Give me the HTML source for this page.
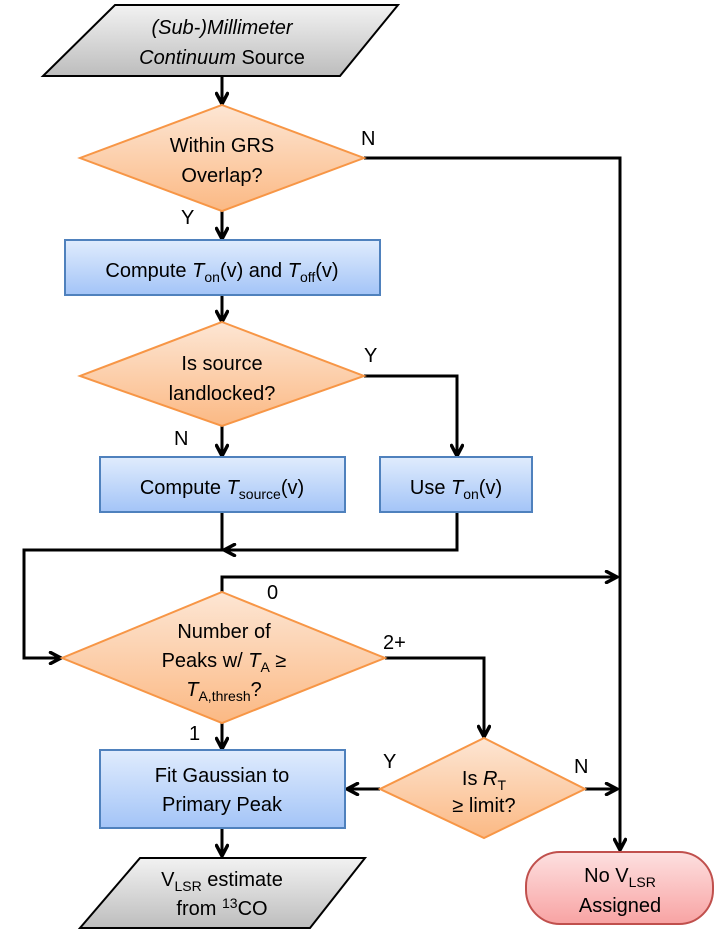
<!DOCTYPE html>
<html><head><meta charset="utf-8"><style>
html,body{margin:0;padding:0;background:#fff}
svg{display:block}
text{font-family:"Liberation Sans",sans-serif;font-size:20px;fill:#000}
</style></head><body>
<svg width="720" height="930" viewBox="0 0 720 930" xmlns="http://www.w3.org/2000/svg">
<defs>
<linearGradient id="o" x1="0" y1="0" x2="0" y2="1"><stop offset="0" stop-color="#fde6d4"/><stop offset="1" stop-color="#fbb984"/></linearGradient>
<linearGradient id="b" x1="0" y1="0" x2="0" y2="1"><stop offset="0" stop-color="#e0ecfd"/><stop offset="1" stop-color="#a3c4f7"/></linearGradient>
<linearGradient id="g" x1="0" y1="0" x2="0" y2="1"><stop offset="0" stop-color="#f2f2f2"/><stop offset="1" stop-color="#bdbdbd"/></linearGradient>
<linearGradient id="r" x1="0" y1="0" x2="0" y2="1"><stop offset="0" stop-color="#fde0e0"/><stop offset="1" stop-color="#f8a3a3"/></linearGradient>
<marker id="a" viewBox="0 0 14 14" refX="12.5" refY="7" markerWidth="14" markerHeight="14" markerUnits="userSpaceOnUse" orient="auto"><path d="M2,1.5 L12.5,7 L2,12.5" fill="none" stroke="#000" stroke-width="3.5" stroke-linecap="round" stroke-linejoin="round"/></marker>
</defs>
<g fill="none" stroke="#000" stroke-width="3">
<line x1="222" y1="76" x2="222" y2="104" marker-end="url(#a)"/>
<polyline points="364,158 620,158 620,850" marker-end="url(#a)"/>
<line x1="222" y1="211" x2="222" y2="239" marker-end="url(#a)"/>
<line x1="222" y1="295" x2="222" y2="322" marker-end="url(#a)"/>
<polyline points="364,376 457,376 457,456" marker-end="url(#a)"/>
<line x1="222" y1="426" x2="222" y2="456" marker-end="url(#a)"/>
<polyline points="222,512 222,550 24,550 24,658 61,658" marker-end="url(#a)"/>
<polyline points="457,512 457,550 224,550" marker-end="url(#a)"/>
<polyline points="222,592 222,577 617,577" marker-end="url(#a)"/>
<polyline points="385,658 484,658 484,737" marker-end="url(#a)"/>
<line x1="222" y1="723" x2="222" y2="749" marker-end="url(#a)"/>
<line x1="380" y1="789" x2="347" y2="789" marker-end="url(#a)"/>
<line x1="585" y1="789" x2="617" y2="789" marker-end="url(#a)"/>
<line x1="222" y1="828" x2="222" y2="856" marker-end="url(#a)"/>
</g>
<polygon points="115,5 398,5 340,76 43,76" fill="url(#g)" stroke="#000" stroke-width="2"/>
<polygon points="222,105 364,158 222,211 80,158" fill="url(#o)" stroke="#f79646" stroke-width="2"/>
<rect x="65" y="240" width="315" height="55" fill="url(#b)" stroke="#4f81bd" stroke-width="2"/>
<polygon points="222,322 364,376 222,426 80,376" fill="url(#o)" stroke="#f79646" stroke-width="2"/>
<rect x="100" y="457" width="245" height="55" fill="url(#b)" stroke="#4f81bd" stroke-width="2"/>
<rect x="380" y="457" width="152" height="55" fill="url(#b)" stroke="#4f81bd" stroke-width="2"/>
<polygon points="222,592 385,658 222,723 62,658" fill="url(#o)" stroke="#f79646" stroke-width="2"/>
<rect x="100" y="750" width="245" height="78" fill="url(#b)" stroke="#4f81bd" stroke-width="2"/>
<polygon points="484,738 585,789 484,838 380,789" fill="url(#o)" stroke="#f79646" stroke-width="2"/>
<polygon points="140,858 365,858 310,928 80,928" fill="url(#g)" stroke="#000" stroke-width="2"/>
<rect x="526" y="852" width="187" height="72" rx="34" fill="url(#r)" stroke="#c0504d" stroke-width="2"/>

<g text-anchor="middle">
<text x="222" y="34"><tspan font-style="italic">(Sub-)Millimeter</tspan></text>
<text x="222" y="64"><tspan font-style="italic">Continuum</tspan> Source</text>
<text x="222" y="152">Within GRS</text>
<text x="222" y="182">Overlap?</text>
<text x="222" y="277">Compute <tspan font-style="italic">T</tspan><tspan font-size="14" dy="5">on</tspan><tspan dy="-5">(v) and </tspan><tspan font-style="italic">T</tspan><tspan font-size="14" dy="5">off</tspan><tspan dy="-5">(v)</tspan></text>
<text x="222" y="370">Is source</text>
<text x="222" y="400">landlocked?</text>
<text x="222" y="494">Compute <tspan font-style="italic">T</tspan><tspan font-size="14" dy="5">source</tspan><tspan dy="-5">(v)</tspan></text>
<text x="456" y="494">Use <tspan font-style="italic">T</tspan><tspan font-size="14" dy="5">on</tspan><tspan dy="-5">(v)</tspan></text>
<text x="224" y="638">Number of</text>
<text x="224" y="667">Peaks w/ <tspan font-style="italic">T</tspan><tspan font-size="14" dy="5">A</tspan><tspan dy="-5"> ≥</tspan></text>
<text x="224" y="696"><tspan font-style="italic">T</tspan><tspan font-size="14" dy="5">A,thresh</tspan><tspan dy="-5">?</tspan></text>
<text x="222" y="782">Fit Gaussian to</text>
<text x="222" y="811">Primary Peak</text>
<text x="484" y="785">Is <tspan font-style="italic">R</tspan><tspan font-size="14" dy="5">T</tspan></text>
<text x="484" y="812">≥  limit?</text>
<text x="222" y="886">V<tspan font-size="14" dy="5">LSR</tspan><tspan dy="-5"> estimate</tspan></text>
<text x="222" y="915">from <tspan font-size="14" dy="-7">13</tspan><tspan dy="7">CO</tspan></text>
<text x="620" y="882">No V<tspan font-size="14" dy="5">LSR</tspan></text>
<text x="620" y="912"><tspan>Assigned</tspan></text>
</g>
<text x="361" y="145">N</text>
<text x="181" y="224">Y</text>
<text x="364" y="362">Y</text>
<text x="174" y="445">N</text>
<text x="267" y="599">0</text>
<text x="383" y="649">2+</text>
<text x="189" y="740">1</text>
<text x="383" y="768">Y</text>
<text x="574" y="773">N</text>
</svg>
</body></html>
